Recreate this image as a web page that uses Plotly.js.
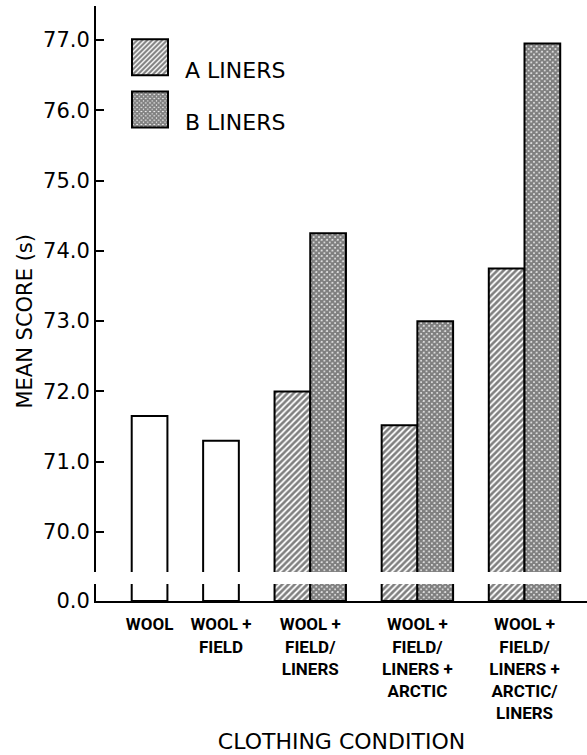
<!DOCTYPE html>
<html>
<head>
<meta charset="utf-8">
<script src="https://cdn.plot.ly/plotly-3.0.1.min.js"></script>
<style>
html, body { margin: 0; padding: 0; background: #ffffff; }
#chart { width: 587px; height: 755px; }
</style>
</head>
<body>
<div id="chart"></div>
<script>
// ---- data ----
const categories = [
  "WOOL",
  "WOOL +<br>FIELD",
  "WOOL +<br>FIELD/<br>LINERS",
  "WOOL +<br>FIELD/<br>LINERS +<br>ARCTIC",
  "WOOL +<br>FIELD/<br>LINERS +<br>ARCTIC/<br>LINERS"
];
const singleScores = [71.65, 71.30, null, null, null];
const linersA = [null, null, 72.00, 71.52, 73.75];
const linersB = [null, null, 74.25, 73.00, 76.95];
const seriesNames = ["A LINERS", "B LINERS"];
const yTickValues = [70, 71, 72, 73, 74, 75, 76, 77];
const xTitle = "CLOTHING CONDITION";
const yTitle = "MEAN SCORE (s)";

// ---- layout helpers ----
const FONT = "'DejaVu Sans', 'Liberation Sans', sans-serif";
const NARROW = "Roboto, 'Liberation Sans', sans-serif";

// one bar-width gap before each category, then 1 or 2 bars
let cursor = 0;
const centers = [];
categories.forEach((c, i) => {
  const n = singleScores[i] != null ? 1 : 2;
  cursor += 1;
  centers.push(cursor + n / 2);
  cursor += n;
});
const xMax = cursor + 0.75;

function pick(values, shift) {
  const xs = [], ys = [];
  values.forEach((v, i) => { if (v != null) { xs.push(centers[i] + shift); ys.push(v); } });
  return {xs, ys};
}
const open = pick(singleScores, 0);
const a = pick(linersA, -0.5);
const b = pick(linersB, 0.5);

const outline = {color: "#000000", width: 2};
const patA = {shape: "/", size: 4.4, solidity: 0.6, fgcolor: "#000000", bgcolor: "#ffffff", fillmode: "overlay"};
const patB = {shape: "x", size: 3.8, solidity: 0.85, fgcolor: "#000000", bgcolor: "#ffffff", fillmode: "overlay"};

const traces = [];
["y", "y2"].forEach(ya => {
  const top = ya === "y2";
  traces.push({type: "bar", x: open.xs, y: open.ys, width: 1, xaxis: "x", yaxis: ya,
    marker: {color: "#ffffff", line: outline}, showlegend: false, hoverinfo: "skip"});
  traces.push({type: "bar", x: a.xs, y: a.ys, width: 1, xaxis: "x", yaxis: ya, name: seriesNames[0],
    legendgroup: "A", showlegend: top,
    marker: {color: "#ffffff", line: outline, pattern: patA}, hoverinfo: "skip"});
  traces.push({type: "bar", x: b.xs, y: b.ys, width: 1, xaxis: "x", yaxis: ya, name: seriesNames[1],
    legendgroup: "B", showlegend: top,
    marker: {color: "#ffffff", line: outline, pattern: patB}, hoverinfo: "skip"});
});

const annotations = [{x: 0, xref: "paper", xshift: -71, xanchor: "center",
  y: 0.465, yref: "paper", yanchor: "middle", textangle: -90, text: yTitle, showarrow: false,
  font: {family: FONT, size: 21, color: "#000000"}}];

const axisCommon = {showgrid: false, zeroline: false, showline: true, linecolor: "#000000", linewidth: 2,
  tickfont: {family: FONT, size: 21, color: "#000000"}};

const layout = {
  width: 587, height: 755,
  margin: {l: 96, r: 0, t: 0, b: 154},
  paper_bgcolor: "#ffffff", plot_bgcolor: "#ffffff",
  barmode: "overlay",
  showlegend: true,
  legend: {x: 0.0387, y: 0.9193, xanchor: "left", yanchor: "top", itemwidth: 60,
    traceorder: "grouped", tracegroupgap: 20.5, bgcolor: "rgba(0,0,0,0)",
    font: {family: FONT, size: 22, color: "#000000"}},
  xaxis: Object.assign({}, axisCommon, {range: [0, xMax], anchor: "y", ticks: "",
    tickvals: centers, ticktext: categories, ticklabelstandoff: 7, automargin: false,
    tickfont: {family: NARROW, size: 17, color: "#000000", weight: "bold"},
    title: {text: xTitle, standoff: 12, font: {family: FONT, size: 22, color: "#000000"}}}),
  yaxis: Object.assign({}, axisCommon, {domain: [0, 0.0283], range: [0, 1], anchor: "x",
    tickvals: [0], ticktext: ["0.0"], ticks: ""}),
  yaxis2: Object.assign({}, axisCommon, {domain: [0.04825, 0.99], range: [69.431, 77.483], anchor: "x",
    tickvals: yTickValues, tickformat: ".1f", ticks: "inside", ticklen: 8, tickwidth: 2, tickcolor: "#000000"}),
  annotations: annotations
};

Plotly.newPlot("chart", traces, layout, {staticPlot: true, displayModeBar: false}).then(gd => {
  // enlarge legend swatches to match the printed key
  gd.querySelectorAll(".legend [clip-path]").forEach(e => e.removeAttribute("clip-path"));
  gd.querySelectorAll(".legend .traces .legendpoints path").forEach(p => {
    p.setAttribute("d", "M18,18H-18V-18H18Z");
    const t = p.getAttribute("transform") || "";
    p.setAttribute("transform", t + " translate(0,-12)");
  });
});
</script>
</body>
</html>
